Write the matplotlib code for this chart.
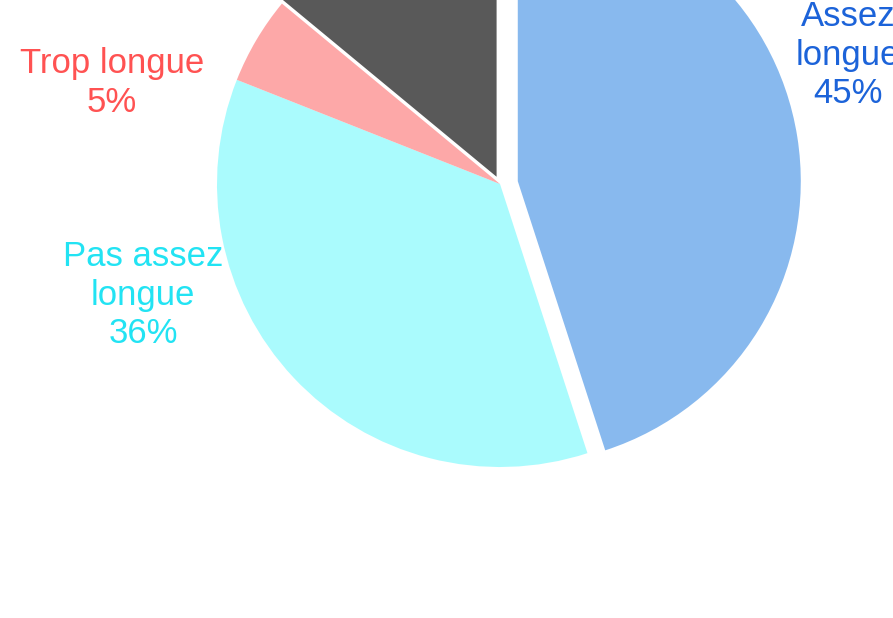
import matplotlib
matplotlib.use("Agg")
import matplotlib.pyplot as plt

# Data
categories = ["Assez longue", "Pas assez longue", "Trop longue", "Autre"]
values = [45, 36, 5, 14]
label_texts = ["Assez\nlongue\n45%", "Pas assez\nlongue\n36%", "Trop longue\n5%", ""]
colors = ["#88B9EE", "#AAFBFD", "#FDA8A8", "#595959"]
label_colors = ["#1C63D9", "#22E3F3", "#FF5252", "#595959"]

W, H = 893, 618
fig = plt.figure(figsize=(W / 100, H / 100), dpi=100)
ax = fig.add_axes([0, 0, 1, 1])

center = (500, H - 184)
radius = 283
explode = [18, 0, 0, 8]  # offsets in pixels
wedges, _ = ax.pie(values, colors=colors, startangle=90, counterclock=False,
                   explode=explode, center=center, radius=radius,
                   wedgeprops=dict(linewidth=0), frame=True)
ax.set_xlim(0, W)
ax.set_ylim(0, H)
ax.axis("off")

label_pos = [(848, H - 55), (143, H - 295), (112, H - 83), None]
for txt, pos, c in zip(label_texts, label_pos, label_colors):
    if pos is None or not txt:
        continue
    ax.text(pos[0], pos[1], txt, ha="center", va="center", color=c,
            fontsize=25, family=["Liberation Sans", "DejaVu Sans"],
            linespacing=1.2, multialignment="center")

fig.savefig("out.png", dpi=100)
